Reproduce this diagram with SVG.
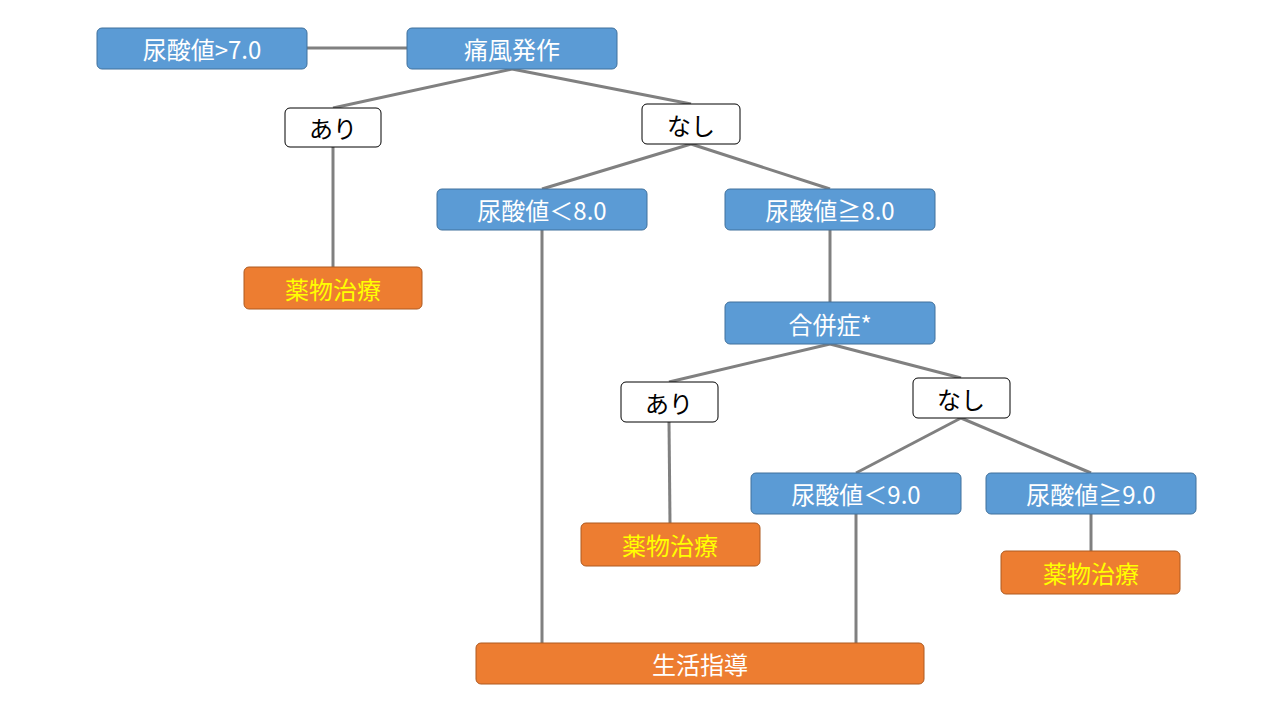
<svg xmlns="http://www.w3.org/2000/svg" width="1280" height="720" viewBox="0 0 1280 720">
<style>
.b{fill:#5B9BD5;stroke:#41719C;stroke-width:1}
.w{fill:#fff;stroke:#000;stroke-width:1}
.o{fill:#ED7D31;stroke:#AE5A21;stroke-width:1}
text{font-family:"Noto Sans CJK JP","Liberation Sans",sans-serif;font-size:24px;text-anchor:middle;dominant-baseline:central}
.tw{fill:#fff}.tk{fill:#000}.ty{fill:#FFFF00}
#c line{stroke:#808080;stroke-width:3}
</style>
<rect width="1280" height="720" fill="#fff"/>
<g id="c">
<line x1="307" y1="48" x2="407" y2="48"/>
<line x1="512" y1="69" x2="333" y2="108"/>
<line x1="512" y1="69" x2="691" y2="104"/>
<line x1="333" y1="147" x2="333" y2="267"/>
<line x1="691" y1="144" x2="542" y2="189"/>
<line x1="691" y1="144" x2="830" y2="189"/>
<line x1="542" y1="230" x2="542" y2="643"/>
<line x1="830" y1="230" x2="830" y2="302"/>
<line x1="830" y1="344" x2="669" y2="382"/>
<line x1="830" y1="344" x2="961" y2="378"/>
<line x1="669" y1="422" x2="670" y2="523"/>
<line x1="961" y1="418" x2="856" y2="473"/>
<line x1="961" y1="418" x2="1091" y2="473"/>
<line x1="856" y1="514" x2="856" y2="643"/>
<line x1="1091" y1="514" x2="1091" y2="551"/>
</g>
<g id="n1"><rect class="b" x="97" y="28" width="210" height="41" rx="5"/><text class="tw" x="202" y="48">尿酸値&gt;7.0</text></g>
<g id="n2"><rect class="b" x="407" y="28" width="210" height="41" rx="5"/><text class="tw" x="512" y="48">痛風発作</text></g>
<g id="n3"><rect class="w" x="285" y="108" width="96" height="39" rx="5"/><text class="tk" x="333" y="127">あり</text></g>
<g id="n4"><rect class="w" x="642" y="104" width="98" height="40" rx="5"/><text class="tk" x="691" y="124">なし</text></g>
<g id="n5"><rect class="b" x="437" y="189" width="210" height="41" rx="5"/><text class="tw" x="542" y="209">尿酸値＜8.0</text></g>
<g id="n6"><rect class="b" x="725" y="189" width="210" height="41" rx="5"/><text class="tw" x="830" y="209">尿酸値≧8.0</text></g>
<g id="n7"><rect class="o" x="244" y="267" width="178" height="42" rx="5"/><text class="ty" x="333" y="288">薬物治療</text></g>
<g id="n8"><rect class="b" x="725" y="302" width="210" height="42" rx="5"/><text class="tw" x="830" y="323">合併症*</text></g>
<g id="n9"><rect class="w" x="621" y="382" width="97" height="40" rx="5"/><text class="tk" x="669" y="402">あり</text></g>
<g id="n10"><rect class="w" x="913" y="378" width="97" height="40" rx="5"/><text class="tk" x="961" y="398">なし</text></g>
<g id="n11"><rect class="b" x="751" y="473" width="210" height="41" rx="5"/><text class="tw" x="856" y="493">尿酸値＜9.0</text></g>
<g id="n12"><rect class="b" x="986" y="473" width="210" height="41" rx="5"/><text class="tw" x="1091" y="493">尿酸値≧9.0</text></g>
<g id="n13"><rect class="o" x="581" y="523" width="179" height="43" rx="5"/><text class="ty" x="670" y="544">薬物治療</text></g>
<g id="n14"><rect class="o" x="1001" y="551" width="179" height="43" rx="5"/><text class="ty" x="1091" y="572">薬物治療</text></g>
<g id="n15"><rect class="o" x="476" y="643" width="448" height="41" rx="5"/><text class="tw" x="700" y="663">生活指導</text></g>
</svg>
